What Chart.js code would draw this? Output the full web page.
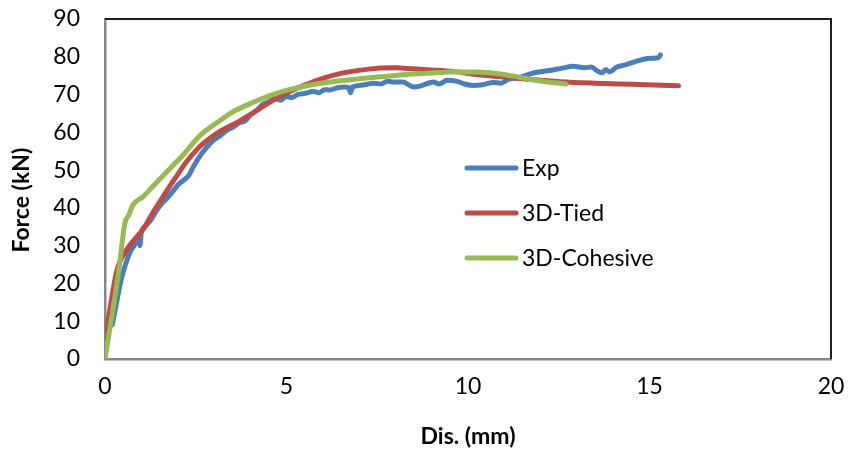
<!DOCTYPE html>
<html>
<head>
<meta charset="utf-8">
<script src="https://cdn.jsdelivr.net/npm/chart.js@4"></script>
<style>
  html, body { margin: 0; padding: 0; background: #fff; }
  #wrap { width: 848px; height: 450px; }
</style>
</head>
<body>
<div id="wrap"><canvas id="c" width="848" height="450"></canvas></div>
<script>
// ---- data ----
const seriesNames = ['Exp', '3D-Tied', '3D-Cohesive'];
const xTicks = [0, 5, 10, 15, 20];
const yTicks = [0, 10, 20, 30, 40, 50, 60, 70, 80, 90];

const expX = [0.2,0.3,0.4,0.5,0.6,0.7,0.8,0.88,0.93,0.96,1.0,1.1,1.24,1.4,1.55,1.7,1.88,2.0,2.15,2.3,2.43,2.6,2.8,3.0,3.2,3.35,3.53,3.7,3.85,4.0,4.2,4.36,4.5,4.65,4.83,5.0,5.15,5.3,5.5,5.74,5.9,6.05,6.2,6.4,6.6,6.72,6.76,6.82,7.1,7.4,7.6,7.78,8.0,8.2,8.5,8.7,8.9,9.05,9.2,9.43,9.7,9.9,10.15,10.4,10.7,10.9,11.1,11.4,11.8,12.2,12.6,12.9,13.2,13.4,13.55,13.7,13.8,13.9,14.1,14.3,14.5,14.7,14.9,15.1,15.25,15.3];
const expY = [9,14,19,23,26,28.5,30,31.5,33,30,33.5,35,36.5,39,41,42.5,44.5,46,47.2,48.5,50.8,53.5,56,58,59.3,60.5,61.4,62.5,63,64.5,66,67.5,68,69,68.5,69.5,69.2,70,70.3,70.8,70.5,71.3,71.2,71.8,72,71.8,70.5,72,72.5,73,72.8,73.5,73.3,73.3,72,72.3,73,73.3,72.8,73.8,73.5,72.8,72.4,72.6,73.2,73,74,74.5,75.7,76.3,77,77.5,77.1,77.3,76.3,75.8,76.6,76,77.3,77.8,78.4,79,79.5,79.6,79.8,80.5];

const tiedX = [0,0.33,0.6,0.8,1.05,1.32,1.6,1.79,2.0,2.26,2.5,2.7,3.09,3.64,4.0,4.55,5.0,5.5,6.0,6.5,7.0,7.6,8.0,8.5,9.0,9.5,10.15,11,12,12.55,13.5,14.5,15.8];
const tiedY = [5,23.5,29,31.5,34.3,38.8,43,45.8,48.8,52.4,55.1,57,59.8,62.6,64.7,68,70.4,72.5,74.3,75.6,76.4,77,77.1,76.8,76.5,76.2,75.4,74.6,73.8,73.4,73,72.7,72.3];

const cohX = [0,0.2,0.36,0.55,0.65,0.77,1.05,1.25,1.5,1.8,2.15,2.6,3.09,3.5,4.0,4.5,5.0,5.5,6.2,7.0,7.6,8.3,9.0,9.5,10.15,10.6,11.0,11.4,12.0,12.7];
const cohY = [0,12,22,36,38,40.8,43,45,47.5,50.5,54,59,62.6,65.3,67.6,69.6,71.1,72.2,73.3,74.2,74.7,75.3,75.7,76,76,75.8,75.3,74.6,73.6,72.8];

const colors = ['#4A7EBB', '#BE4B48', '#98B954'];

const toPts = (xs, ys) => xs.map((x, i) => ({ x: x, y: ys[i] }));

Chart.defaults.font.family = 'Lato';
Chart.defaults.color = '#000';

const FONT = 23;

const borderPlugin = {
  id: 'plotBorder',
  afterDatasetsDraw(chart) {
    const { ctx, chartArea: a } = chart;
    ctx.save();
    ctx.strokeStyle = '#1e1e1e';
    ctx.lineWidth = 2;
    ctx.beginPath();
    ctx.moveTo(a.left, a.top);
    ctx.lineTo(a.right, a.top);
    ctx.lineTo(a.right, a.bottom);
    ctx.stroke();
    ctx.restore();
  }
};

const legendPlugin = {
  id: 'customLegend',
  afterDraw(chart) {
    const { ctx } = chart;
    const rows = [168, 213, 258];
    ctx.save();
    ctx.font = FONT + 'px Lato';
    ctx.textBaseline = 'middle';
    ctx.textAlign = 'left';
    ctx.lineCap = 'round';
    seriesNames.forEach((name, i) => {
      ctx.strokeStyle = colors[i];
      ctx.lineWidth = 5;
      ctx.beginPath();
      ctx.moveTo(467, rows[i]);
      ctx.lineTo(516, rows[i]);
      ctx.stroke();
      ctx.fillStyle = '#000';
      ctx.fillText(name, 522, rows[i] + 1);
    });
    ctx.restore();
  }
};

new Chart(document.getElementById('c'), {
  type: 'line',
  data: {
    datasets: [
      { label: seriesNames[0], data: toPts(expX, expY), borderColor: colors[0], order: 3 },
      { label: seriesNames[1], data: toPts(tiedX, tiedY), borderColor: colors[1], order: 2 },
      { label: seriesNames[2], data: toPts(cohX, cohY), borderColor: colors[2], order: 1 }
    ].map(d => Object.assign(d, {
      borderWidth: 5,
      pointRadius: 0,
      fill: false,
      cubicInterpolationMode: 'monotone',
      borderCapStyle: 'round',
      borderJoinStyle: 'round'
    }))
  },
  options: {
    responsive: false,
    devicePixelRatio: 1,
    animation: false,
    layout: { padding: { left: 0, top: 19, right: 17, bottom: 0 } },
    plugins: { legend: { display: false }, tooltip: { enabled: false } },
    scales: {
      x: {
        type: 'linear',
        min: 0, max: 20,
        afterBuildTicks: s => { s.ticks = xTicks.map(v => ({ value: v })); },
        afterFit: s => { s.height = 91; s.paddingLeft = 0; s.paddingRight = 0; },
        grid: { display: false, drawTicks: false },
        border: { display: true, color: '#868686', width: 2.5 },
        ticks: { font: { size: FONT }, padding: 14, maxRotation: 0 },
        title: { display: true, text: 'Dis. (mm)', font: { size: FONT, weight: 'bold' }, padding: { top: 0, bottom: 0 } }
      },
      y: {
        type: 'linear',
        min: 0, max: 90,
        afterBuildTicks: s => { s.ticks = yTicks.map(v => ({ value: v })); },
        afterFit: s => { s.width = 105; s.paddingTop = 0; s.paddingBottom = 0; },
        grid: { display: false, drawTicks: false },
        border: { display: true, color: '#868686', width: 2.5 },
        ticks: { font: { size: FONT }, padding: 25 },
        title: { display: true, text: 'Force (kN)    ', font: { size: FONT, weight: 'bold' }, padding: { top: 8, bottom: 0 } }
      }
    }
  },
  plugins: [borderPlugin, legendPlugin]
});
</script>
</body>
</html>
